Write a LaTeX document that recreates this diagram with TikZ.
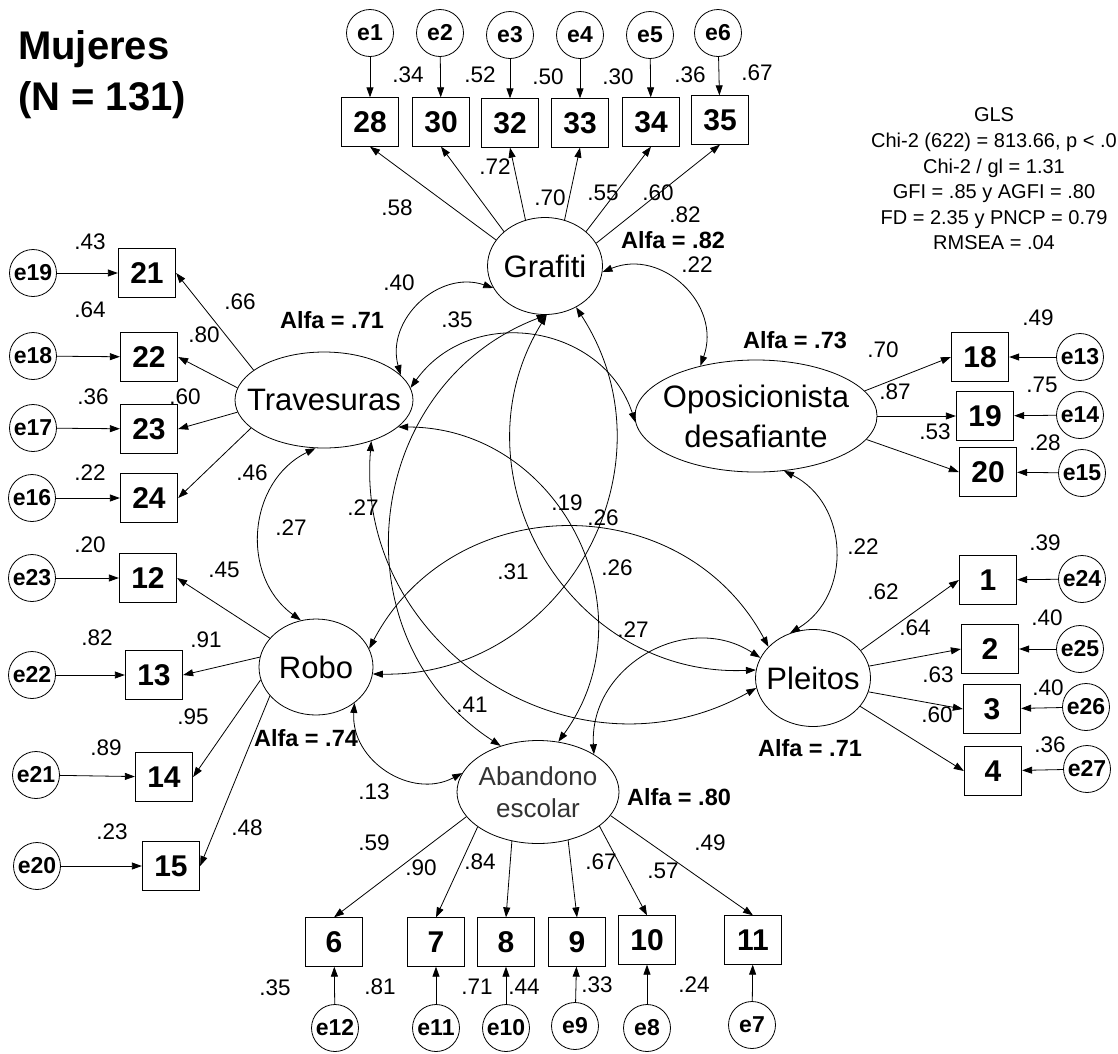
\documentclass[tikz,border=0pt]{standalone}
\usepackage{fontspec}
\setmainfont{Liberation Sans}
\usetikzlibrary{shapes.geometric,arrows.meta}
\begin{document}
\begin{tikzpicture}[x=1pt,y=-1pt,
  err/.style={circle,draw,line width=0.8pt,minimum size=47pt,inner sep=0pt,font=\fontsize{23}{26}\selectfont\bfseries},
  obs/.style={rectangle,draw,line width=0.8pt,minimum width=57.5pt,minimum height=48.5pt,inner sep=0pt,font=\fontsize{30}{33}\selectfont\bfseries},
  lat/.style={ellipse,draw,line width=0.8pt,inner sep=-30pt,align=center,font=\fontsize{31}{40}\selectfont},
  num/.style={font=\fontsize{22.5}{26}\selectfont,inner sep=0pt},
  alfa/.style={font=\fontsize{23.5}{27}\selectfont\bfseries,inner sep=0pt},
  load/.style={line width=0.8pt,-{Triangle[length=10pt,width=7pt]}},
  cov/.style={line width=0.8pt,{Triangle[length=10pt,width=7pt]}-{Triangle[length=10pt,width=7pt]}},
]
\useasboundingbox (0,0) rectangle (1118,1053);

% title
\node[font=\fontsize{40}{48}\selectfont\bfseries,anchor=base west,inner sep=0pt] (title1) at (18,59) {Mujeres};
\node[font=\fontsize{40}{48}\selectfont\bfseries,anchor=base west,inner sep=0pt] (title2) at (18,110) {(N = 131)};

% fit statistics
\node[font=\fontsize{20}{25.6}\selectfont,align=center,inner sep=0pt] (stats) at (994,179)
  {GLS\\Chi-2 (622) = 813.66, p < .0\\Chi-2 / gl = 1.31\\GFI = .85 y AGFI = .80\\FD = 2.35 y PNCP = 0.79\\RMSEA = .04};

% latent variables
\node[lat,minimum width=115pt,minimum height=97pt] (G) at (545,266) {Grafiti};
\node[lat,minimum width=178pt,minimum height=96pt] (T) at (324,400) {Travesuras};
\node[lat,minimum width=242pt,minimum height=112pt] (O) at (756,416) {Oposicionista\\desafiante};
\node[lat,minimum width=114pt,minimum height=96pt] (R) at (316,667) {Robo};
\node[lat,minimum width=115pt,minimum height=97pt] (P) at (813,678) {Pleitos};
\node[lat,minimum width=162pt,minimum height=103pt,font=\fontsize{26}{32}\selectfont,text=black!80] (A) at (538,792) {Abandono\\escolar};

% observed variables
\foreach \n/\x/\y in {28/370/122,30/441/122,32/510/123,33/580/123,34/651/122,35/720/120,
  21/147/273,22/149/357,23/149/429,24/149/498,12/148/578,13/154/675,14/164/777,15/171/866,
  18/980/357,19/985/416,20/988/472,1/988/580,2/990/649,3/992/709,4/993/771,
  6/334/942,7/436/942,8/506/942,9/577/942,10/647/940,11/753/940}
  \node[obs] (b\n) at (\x,\y) {\n};

% error terms
\foreach \n/\x/\y in {1/370/33,2/440/33,3/510/35,4/580/35,5/650/35,6/718/33,
  19/33/273,18/33/356,17/33/428,16/32/498,23/32/578,22/32/675,21/36/775,20/37/866,
  13/1080/357,14/1080/415,15/1082/473,24/1082/579,25/1080/649,26/1086/707,27/1087/769,
  12/335/1028,11/436/1028,10/506/1028,9/575/1026,8/647/1028,7/752/1025}
  \node[err] (e\n) at (\x,\y) {e\n};

% error -> indicator
\foreach \e/\b in {1/28,2/30,3/32,4/33,5/34,6/35,19/21,18/22,17/23,16/24,23/12,22/13,21/14,20/15,
  13/18,14/19,15/20,24/1,25/2,26/3,27/4,12/6,11/7,10/8,9/9,8/10,7/11}
  \draw[load] (e\e) -- (b\b);

% loadings
\draw[load] (G.152) -- (b28.south);
\draw[load] (G.140) -- (b30.south);
\draw[load] (G.113) -- (b32.south);
\draw[load] (G.67) -- (b33.south);
\draw[load] (G.40) -- (b34.south);
\draw[load] (G.24) -- (b35.south);
\draw[load] (T.157) -- (b21.east);
\draw[load] (T.172) -- (b22.east);
\draw[load] (T.188) -- (b23.east);
\draw[load] (T.201) -- (b24.east);
\draw[load] (R.148) -- (b12.east);
\draw[load] (R.170) -- (b13.east);
\draw[load] (R.193) -- (b14.east);
\draw[load] (R.212) -- (b15.east);
\draw[load] (O.13) -- (b18.west);
\draw[load] (O.0) -- (b19.west);
\draw[load] (O.-12) -- (b20.west);
\draw[load] (P.30) -- (b1.west);
\draw[load] (P.12) -- (b2.west);
\draw[load] (P.-14) -- (b3.west);
\draw[load] (P.-31) -- (b4.west);
\draw[load] (A.199) -- (b6.north);
\draw[load] (A.210) -- (b7.north);
\draw[load] (A.242) -- (b8.north);
\draw[load] (A.-58) -- (b9.north);
\draw[load] (A.-29) -- (b10.north);
\draw[load] (A.-18) -- (b11.north);

% covariances
\draw[cov] (G.203) to[bend right=62,looseness=1.16] (T.18);
\draw[cov] (G.-6) to[bend left=66,looseness=1.22] (O.138);
\draw[cov] (T.8) to[bend left=63,looseness=1.17] (O.183);
\draw[cov] (T.260) to[bend right=59,looseness=1.12] (R.108);
\draw[cov] (R.-43) to[bend right=61,looseness=1.15] (A.166);
\draw[cov] (O.-63) to[bend left=61,looseness=1.15] (P.117);
\draw[cov] (T.-41) to[bend right=62,looseness=1.16] (P.190);
\draw[cov] (T.-20) to[bend left=63,looseness=1.17] (A.68);
\draw[cov] (G.-53) to[bend left=62,looseness=1.16] (R.-7);
\draw[cov] (G.-88) to[bend right=63,looseness=1.17] (A.129);
\draw[cov] (G.-88) to[bend right=62,looseness=1.16] (P.172);
\draw[cov] (R.19) to[bend left=62,looseness=1.16] (P.145);
\draw[cov] (A.34) to[bend left=63,looseness=1.17] (P.159);

% numeric labels
\foreach \t/\x/\y [count=\i] in {
  .34/408/75,.52/480/75,.50/548/77,.30/618/77,.36/690/75,.67/757/73,
  .58/397/208,.72/495/167,.70/550/198,.55/603/193,.60/658/193,.82/685/215,
  .22/697/265,.40/399/283,.35/457/320,
  .43/90/242,.64/90/310,.36/93/397,.22/90/473,.20/90/545,.82/97/638,.89/106/748,.23/112/832,
  .66/240/302,.80/204/335,.60/185/397,.46/252/473,
  .45/224/570,.91/206/640,.95/193/717,.48/247/828,
  .13/374/792,.27/291/528,.27/363/508,
  .19/567/503,.26/603/518,.31/513/572,.26/617/568,.27/633/630,.41/472/705,
  .70/883/350,.87/895/392,.53/935/432,.49/1038/318,.75/1042/385,.28/1045/443,
  .22/863/547,
  .62/883/592,.64/915/628,.63/938/675,.60/937/715,.39/1045/543,.40/1047/618,.40/1048/688,.36/1050/745,
  .59/374/843,.90/421/868,.84/480/862,.67/601/862,.57/663/871,.49/710/843,
  .35/275/988,.81/380/987,.71/477/987,.44/524/987,.33/597/985,.24/694/985}
  \node[num] (lab\i) at (\x,\y) {\t};

% reliability labels
\foreach \t/\x/\y [count=\i] in {.82/673/240,.71/332/320,.73/795/340,.74/306/738,.71/810/748,.80/679/797}
  \node[alfa] (alfa\i) at (\x,\y) {Alfa = \t};
\end{tikzpicture}
\end{document}
